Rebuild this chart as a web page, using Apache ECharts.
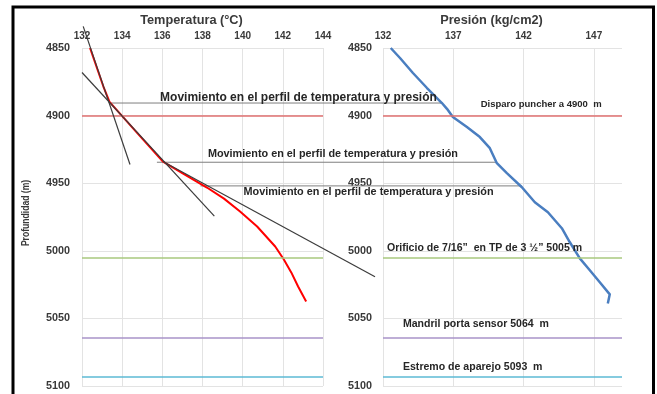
<!DOCTYPE html>
<html>
<head>
<meta charset="utf-8">
<script src="https://cdn.jsdelivr.net/npm/echarts@6/dist/echarts.min.js"></script>
<style>
html, body { margin: 0; padding: 0; background: #fff; }
#c { width: 657px; height: 394px; }
</style>
</head>
<body>
<div id="c"></div>
<script>
// Temperature log: temperature (°C) against depth (m)
const tempValues = [132.40, 133.06, 133.37, 134.70, 136.03, 137.10, 138.22, 139.07, 139.87, 140.72, 141.62, 142.05, 142.42, 142.76, 143.16];
const tempDepths = [4850, 4878.3, 4889.9, 4912, 4934, 4943.5, 4953.2, 4961.4, 4971.0, 4982.0, 4996.8, 5006.4, 5016.0, 5026.4, 5037.5];

// Pressure log: pressure (kg/cm2) against depth (m)
const presValues = [132.55, 133.21, 134.13, 135.13, 136.19, 136.55, 136.97, 137.97, 138.89, 139.60, 140.10, 140.81, 141.88, 142.80, 143.73, 144.72, 145.29, 146.00, 146.71, 147.42, 148.13, 147.99];
const presDepths = [4850, 4857.4, 4868.5, 4879.6, 4890.7, 4895.0, 4901.1, 4908.5, 4915.9, 4924.1, 4935.2, 4942.6, 4953.0, 4964.1, 4971.5, 4983.3, 4993.7, 5005.6, 5014.4, 5023.3, 5032.2, 5038.9];

// Straight trend lines fitted to the temperature gradient segments
const trendTemps = [[132.06, 134.39], [132.0, 138.59], [136.03, 146.59]];
const trendDepths = [[4834.0, 4936.2], [4868.1, 4974.4], [4934.0, 5019.2]];

// Changes of slope linked across both logs
const shiftDepths = [4890.7, 4934.5, 4952.0];
const shiftTemps = [133.40, 135.73, 137.9];
const shiftPres = [136.26, 140.10, 141.88];
const shiftText = 'Movimiento en el perfil de temperatura y presión';

// Well completion reference depths
const refDepths = [4900, 5005, 5064, 5093];
const refLabels = ['Disparo puncher a 4900  m', 'Orificio de 7/16”  en TP de 3 ½” 5005 m', 'Mandril porta sensor 5064  m', 'Estremo de aparejo 5093  m'];
const refColors = ['#E07070', '#A9C97E', '#A893C8', '#5DBAD4'];

// Axis scales
const tempAxis = { min: 132, max: 144, interval: 2 };
const presAxis = { min: 132, max: 149, interval: 5 };
const depthAxis = { min: 4850, max: 5100, interval: 50 };

const FONT = 'Liberation Sans, Arial, sans-serif';
const zip = (a, b) => a.map((v, i) => [v, b[i]]);

const refMarkLine = {
  silent: true,
  symbol: 'none',
  label: { show: false },
  data: refDepths.map((d, i) => ({ yAxis: d, lineStyle: { color: refColors[i], width: 1.6, type: 'solid' } }))
};

const xAxisBase = (g, ax, showMaxLine) => ({
  type: 'value', gridIndex: g, position: 'top',
  min: ax.min, max: ax.max, interval: ax.interval,
  axisLine: { show: false }, axisTick: { show: false },
  axisLabel: { color: '#3a3a3a', fontFamily: FONT, fontWeight: 'bold', fontSize: 10, margin: 7, showMaxLabel: showMaxLine, formatter: v => String(v) },
  splitLine: { show: true, showMaxLine: showMaxLine, lineStyle: { color: '#E3E3E3', width: 1 } }
});
const yAxisBase = (g, margin) => ({
  type: 'value', gridIndex: g, inverse: true,
  min: depthAxis.min, max: depthAxis.max, interval: depthAxis.interval,
  axisLine: { show: false }, axisTick: { show: false },
  axisLabel: { color: '#3a3a3a', fontFamily: FONT, fontWeight: 'bold', fontSize: 10.8, margin: margin, formatter: v => String(v) },
  splitLine: { show: true, lineStyle: { color: '#E3E3E3', width: 1 } }
});

const option = {
  backgroundColor: '#ffffff',
  animation: false,
  grid: [
    { left: 82, right: 334, top: 48, bottom: 8 },
    { left: 383, right: 35, top: 48, bottom: 8 }
  ],
  xAxis: [xAxisBase(0, tempAxis, true), xAxisBase(1, presAxis, false)],
  yAxis: [yAxisBase(0, 12), yAxisBase(1, 11)],
  series: [
    {
      name: 'Temperatura', type: 'line', xAxisIndex: 0, yAxisIndex: 0,
      data: zip(tempValues, tempDepths), showSymbol: false, smooth: false,
      lineStyle: { color: '#FF0000', width: 2, join: 'round' }, z: 3,
      markLine: refMarkLine
    },
    {
      name: 'Presión', type: 'line', xAxisIndex: 1, yAxisIndex: 1,
      data: zip(presValues, presDepths), showSymbol: false,
      lineStyle: { color: '#4A7EC0', width: 2.5, join: 'round' }, z: 4,
      markLine: refMarkLine
    }
  ]
};

const chart = echarts.init(document.getElementById('c'));
chart.setOption(option);

const toPx = (g, v, d) => chart.convertToPixel({ gridIndex: g }, [v, d]);
const graphics = [];

// Outer frame
graphics.push({ type: 'rect', shape: { x: 13, y: 7, width: 640.5, height: 420 }, style: { fill: 'none', stroke: '#000', lineWidth: 3 }, silent: true, z: 100 });

// Panel titles
graphics.push({ type: 'text', x: 191.5, y: 20.5, style: { text: 'Temperatura (°C)', font: 'bold 12.75px ' + FONT, fill: '#3a3a3a', textAlign: 'center', textVerticalAlign: 'middle' }, z: 100 });
graphics.push({ type: 'text', x: 491.5, y: 20.5, style: { text: 'Presión (kg/cm2)', font: 'bold 12.75px ' + FONT, fill: '#3a3a3a', textAlign: 'center', textVerticalAlign: 'middle' }, z: 100 });

// Depth axis name (condensed)
graphics.push({ type: 'text', x: 26, y: 213, rotation: Math.PI / 2, scaleX: 0.78, style: { text: 'Profundidad (m)', font: 'bold 11px ' + FONT, fill: '#3a3a3a', textAlign: 'center', textVerticalAlign: 'middle' }, z: 100 });

// Trend lines; they run past the panel edges, so they are drawn unclipped
trendTemps.forEach((t, i) => {
  const a = toPx(0, t[0], trendDepths[i][0]);
  const b = toPx(0, t[1], trendDepths[i][1]);
  graphics.push({ type: 'line', shape: { x1: a[0], y1: a[1], x2: b[0], y2: b[1] }, style: { stroke: '#3c3c3c', lineWidth: 1.2 }, silent: true, z: 5 });
});

// Leader lines joining slope changes in both logs
const shiftFont = [12, 10.85, 10.85];
const shiftDx = [50, 51, 43];
const shiftDy = [-5.5, -8, 6];
shiftDepths.forEach((d, i) => {
  const a = toPx(0, shiftTemps[i], d);
  const b = toPx(1, shiftPres[i], d);
  graphics.push({ type: 'line', shape: { x1: a[0], y1: a[1], x2: b[0], y2: b[1] }, style: { stroke: '#7f7f7f', lineWidth: 1 }, silent: true, z: 1 });
  graphics.push({ type: 'text', x: a[0] + shiftDx[i], y: a[1] + shiftDy[i], style: { text: shiftText, font: 'bold ' + shiftFont[i] + 'px ' + FONT, fill: '#262626', textAlign: 'left', textVerticalAlign: 'middle' }, z: 60 });
});

// Labels for the completion reference depths (right panel)
const refLabelPres = [147.55, 132.28, 133.42, 133.42];
const refLabelAlign = ['right', 'left', 'left', 'left'];
const refLabelDy = [-11, -9.5, -13, -9.5];
const refLabelFont = [9.5, 10.55, 10.55, 10.55];
refDepths.forEach((d, i) => {
  const p = toPx(1, refLabelPres[i], d);
  graphics.push({ type: 'text', x: p[0], y: p[1] + refLabelDy[i], style: { text: refLabels[i], font: 'bold ' + refLabelFont[i] + 'px ' + FONT, fill: '#262626', textAlign: refLabelAlign[i], textVerticalAlign: 'middle' }, z: 60 });
});

chart.setOption({ graphic: graphics });
</script>
</body>
</html>
